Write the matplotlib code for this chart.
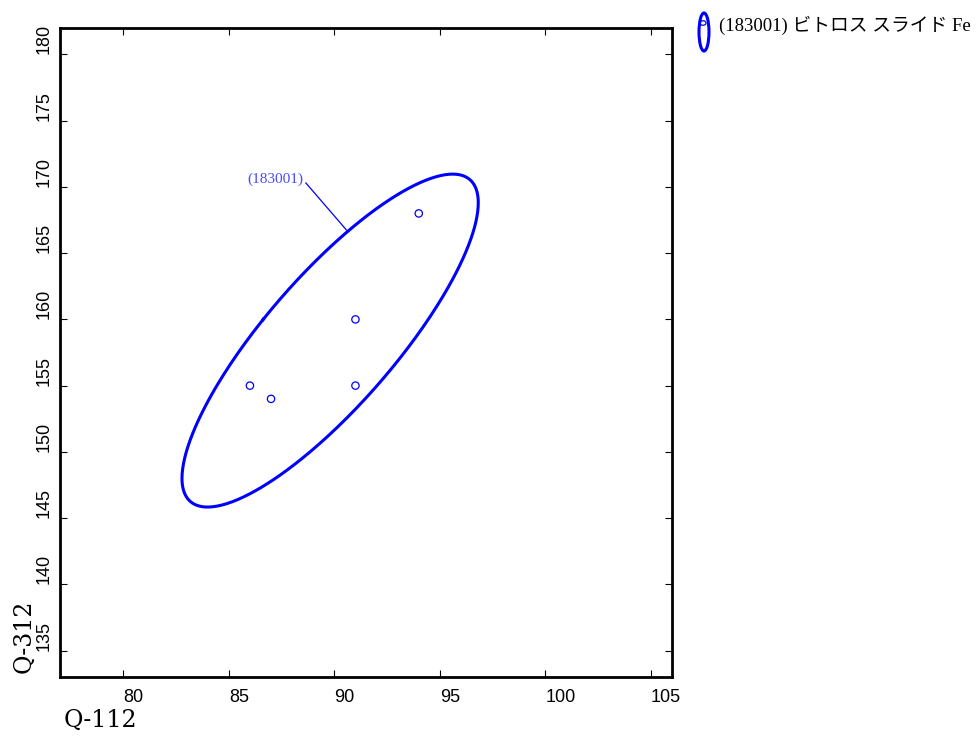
"""
Q-112 vs Q-312 scatter with 90% confidence ellipse
"""
import matplotlib
matplotlib.use('Agg')
import matplotlib.pyplot as plt
import matplotlib.patches as mpatches
import numpy as np

# 測定値
x_vals = [86, 87, 91, 91, 94]
y_vals = [155, 154, 155, 160, 168]
series_id = '(183001)'
legend_label = '(183001) ビトロス スライド Fe'
x_ticks = [80, 85, 90, 95, 100, 105]
y_ticks = [135, 140, 145, 150, 155, 160, 165, 170, 175, 180]

BLUE = '#0000ff'
serif_jp = ['Liberation Serif', 'Noto Sans CJK JP']
axis_font = ['DejaVu Serif']

fig = plt.figure(figsize=(9.79, 7.38), dpi=100)
ax = fig.add_axes([60 / 979, 61 / 738, 612 / 979, 649 / 738])

# 90% 信頼楕円
xs = np.array(x_vals, float)
ys = np.array(y_vals, float)
cov = np.cov(xs, ys)
k = np.sqrt(-2 * np.log(0.1))
vals, vecs = np.linalg.eigh(cov)
t = np.linspace(0, 2 * np.pi, 400)
circ = np.vstack([np.cos(t), np.sin(t)])
ell = vecs @ (np.sqrt(vals)[:, None] * circ) * k
ax.plot(xs.mean() + ell[0], ys.mean() + ell[1], color=BLUE, lw=2.2)

ax.scatter(xs, ys, s=28, facecolors='none', edgecolors=BLUE, linewidths=0.9, zorder=3)

# ラベルと引き出し線
ax.plot([88.65, 90.6], [170.3, 166.7], color=BLUE, lw=0.9)
ax.text(87.2, 170.6, series_id, color='#4a4aff', fontsize=11,
        family=serif_jp, ha='center', va='center')

ax.set_xlim(77, 106)
ax.set_ylim(133, 182)
ax.set_xticks(x_ticks)
ax.set_yticks(y_ticks)
ax.tick_params(direction='in', length=5, width=0.8, top=True, right=True,
               labelsize=13)
ax.tick_params(axis='x', pad=9)
ax.tick_params(axis='y', pad=5)
for lab in ax.get_yticklabels():
    lab.set_rotation(90)
    lab.set_va('bottom')
for lab in ax.get_xticklabels():
    lab.set_ha('left')
for sp in ax.spines.values():
    sp.set_linewidth(2)
for lab in ax.get_xticklabels() + ax.get_yticklabels():
    lab.set_family('Liberation Sans')

fig.text(100 / 979, 1 - 720 / 738, 'Q-112', fontsize=17, family=axis_font,
         ha='center', va='center')
fig.text(24 / 979, 1 - 636 / 738, 'Q-312', fontsize=17, family=axis_font,
         ha='center', va='center', rotation=90)

# 凡例（枠外）
fig.add_artist(mpatches.Ellipse((704 / 979, 1 - 32 / 738), 10 / 979, 38 / 738,
                                transform=fig.transFigure, fill=False,
                                edgecolor=BLUE, lw=2.2))
fig.add_artist(mpatches.Circle((703 / 979, 1 - 23 / 738), 3 / 979,
                               transform=fig.transFigure, fill=False,
                               edgecolor=BLUE, lw=0.9))
fig.text(719 / 979, 1 - 25 / 738, legend_label, fontsize=13.5, family=serif_jp,
         ha='left', va='center')

plt.savefig('out.png', dpi=100, facecolor='white')
